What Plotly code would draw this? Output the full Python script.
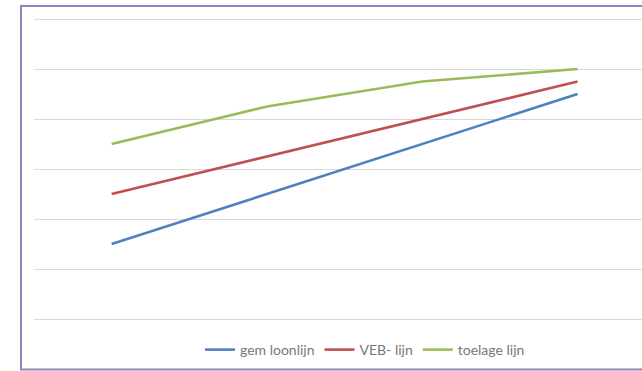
import plotly.graph_objects as go

categories = ["1", "2", "3", "4"]
gem_loonlijn = [1.5, 2.5, 3.5, 4.5]
veb_lijn = [2.5, 3.25, 4.0, 4.75]
toelage_lijn = [3.5, 4.25, 4.75, 5.0]
series_names = ["gem loonlijn", "VEB- lijn", "toelage lijn"]
colors = ["#4F81BD", "#C0504D", "#9BBB59"]

fig = go.Figure()
for name, vals, col in zip(series_names, [gem_loonlijn, veb_lijn, toelage_lijn], colors):
    fig.add_trace(go.Scatter(x=list(range(len(categories))), y=vals, mode="lines", name=name,
                             line=dict(color=col, width=2.6)))

W, H = 642, 371
left, top, bottom = 34, 9, 52
pw = W - left
ph = H - top - bottom
cat_w = 155.3
ymax = 6.2

fig.update_layout(
    width=W, height=H,
    margin=dict(l=left, r=0, t=top, b=bottom, pad=0),
    paper_bgcolor="white", plot_bgcolor="white",
    font=dict(family="Lato, 'Open Sans', sans-serif", size=11, color="#6b6b6b"),
    showlegend=True,
    legend=dict(orientation="h", x=(365 - left) / pw, xanchor="center",
                y=(H - bottom - 350) / ph, yanchor="middle",
                font=dict(size=14, color="#777777"), itemwidth=30,
                bgcolor="rgba(0,0,0,0)", tracegroupgap=0),
    xaxis=dict(range=[-0.5, -0.5 + pw / cat_w], showgrid=False, showticklabels=False,
               zeroline=False, showline=False, ticks=""),
    yaxis=dict(range=[0, ymax], dtick=1, tick0=0, showgrid=True, gridcolor="#d9d9d9", gridwidth=1,
               showticklabels=False, zeroline=True, zerolinecolor="#d9d9d9", zerolinewidth=1,
               showline=False, ticks=""),
    shapes=[dict(type="rect", xref="paper", yref="paper",
                 x0=(21 - left) / pw, x1=1.05,
                 y0=-(369.5 - (H - bottom)) / ph, y1=1 + (top - 6) / ph,
                 line=dict(color="#8E87BC", width=2), fillcolor="rgba(0,0,0,0)", layer="above")],
)
fig.write_html("out.html")
